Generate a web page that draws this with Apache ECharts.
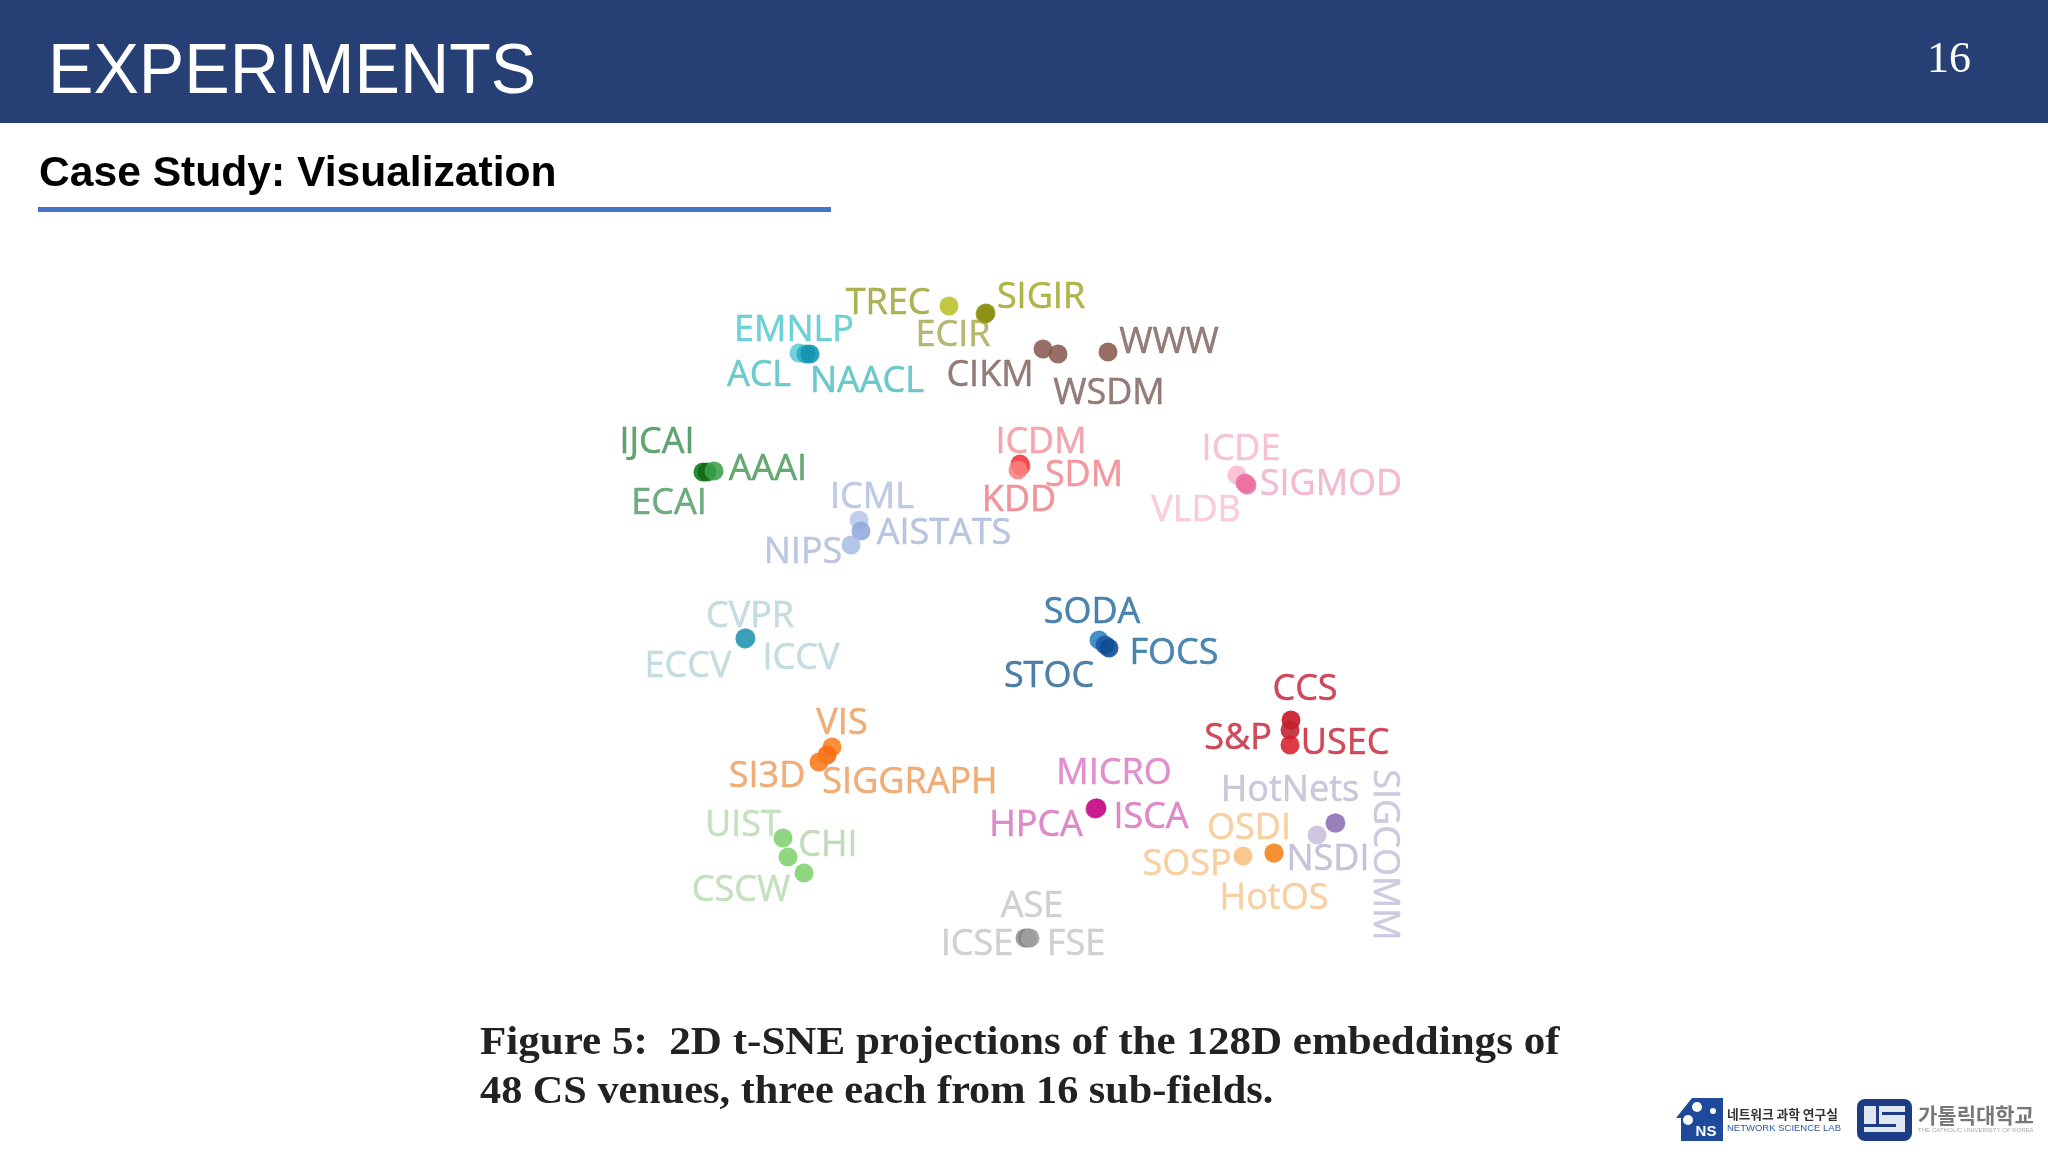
<!DOCTYPE html>
<html>
<head>
<meta charset="utf-8">
<title>Experiments</title>
<style>
  html, body { margin: 0; padding: 0; background: #fff; }
  #chart { width: 2048px; height: 1152px; filter: blur(0.6px); }
</style>
<script src="https://cdn.jsdelivr.net/npm/echarts@6/dist/echarts.min.js"></script>
</head>
<body>
<div id="chart"></div>
<script>
// venues, value units are page pixels of the original slide
const venues = ['TREC','ECIR','SIGIR','EMNLP','ACL','NAACL','CIKM','WSDM','WWW','IJCAI','ECAI','AAAI',
  'ICDM','SDM','KDD','ICDE','VLDB','SIGMOD','ICML','AISTATS','NIPS','CVPR','ECCV','ICCV',
  'SODA','STOC','FOCS','CCS','S&P','USEC','VIS','SIGGRAPH','SI3D','MICRO','ISCA','HPCA',
  'UIST','CHI','CSCW','HotNets','NSDI','SIGCOMM','OSDI','HotOS','SOSP','ASE','ICSE','FSE'];
const pointX = [949,985,986,799,806,810,1043,1058,1108,703,707,714,
  1020,1021,1018,1237,1245,1247,859,861,851,745,746,745,
  1099,1105,1109,1291,1290,1290,832,827,819,1096,1097,1095,
  783,788,804,1317,1335,1336,1243,1274,1274,1025,1028,1030];
const pointY = [306,314,313,353,354,354,349,354,352,472,472,471,
  464,466,470,475,483,485,520,531,545,638,638,639,
  640,645,648,720,730,745,747,755,762,808,808,809,
  838,857,873,835,823,823,856,853,853,938,938,938];
const labelX = [888,953,1041,794,759,867,990,1109,1169,657,669,768,
  1041,1084,1019,1241,1196,1331,872,944,803,750,688,801,
  1092,1049,1174,1305,1238,1345,842,910,767,1114,1151,1036,
  743,828,741,1290,1328,1384,1249,1274,1187,1032,977,1076];
const labelY = [302,334,296,329,374,380,374,392,341,441,502,468,
  441,474,499,448,509,483,496,532,551,615,665,657,
  611,675,652,688,737,742,722,781,775,772,816,824,
  824,844,889,789,858,853,827,897,863,905,943,943];
const labelColors = ['#9a9f2c','#a4a850','#9ea222','#4cc5cc','#48bfc6','#48bbc1','#7a5c58','#7a5c58','#7a5c58',
  '#3a8f4e','#489a5c','#3f9550','#f0919b','#ef7f89','#ec7a84','#f3b6cd','#f6c1d5','#efadc6',
  '#aebde0','#a8b8da','#abbadc','#b5d4d8','#b5d4d8','#b5d4d8','#1f659a','#236192','#1f699f',
  '#c41e32','#c41e32','#c41e32','#ee9a58','#ee9a58','#ee9a58','#d977c0','#d66fbc','#d66fbc',
  '#b6dab0','#b1d6aa','#b6dab0','#bdbbd3','#b7b5d0','#c4bdd9','#f7c48c','#f7c48c','#f7c48c','#c6c6c6','#c6c6c6','#c6c6c6'];
const pointColors = ['#b9c02a','#9aa01c','#8a9010','#5cc9d6','#2ba5c0','#0f93b0','#8a5a50','#8a5a50','#8a5a50',
  '#0a7a1a','#0f6b14','#3aa04a','#f03838','#f04a4a','#f98080','#f9b9cf','#ec6f9f','#ec6f9f',
  '#b8c8ea','#8fa8dc','#a9bde6','#3a9fb8','#3a9fb8','#3a9fb8','#2e7fbf','#1a5ca4','#0c4a94',
  '#c81020','#c02030','#d8202c','#f98020','#f86a10','#f87818','#c0148a','#c0148a','#c81c90',
  '#80d070','#80d070','#80d070','#c8bedc','#8d6db0','#9a80bc','#f9c080','#f59030','#f59030','#909090','#808080','#a0a0a0'];

const chart = echarts.init(document.getElementById('chart'));

const labelData = venues.map((name, i) => ({
  value: [labelX[i], labelY[i] + 2],
  name: name,
  label: {
    color: labelColors[i],
    textBorderColor: labelColors[i],
    textBorderWidth: 0.5,
    rotate: name === 'SIGCOMM' ? -90 : 0
  }
}));
const pointData = venues.map((name, i) => ({
  value: [pointX[i], pointY[i]],
  name: name,
  itemStyle: { color: pointColors[i] }
}));

const option = {
  backgroundColor: '#fff',
  animation: false,
  grid: { left: 0, right: 0, top: 0, bottom: 0 },
  xAxis: { type: 'value', min: 0, max: 2048, show: false },
  yAxis: { type: 'value', min: 0, max: 1152, inverse: true, show: false },
  graphic: [
    { type: 'rect', z: 0, shape: { x: 0, y: 0, width: 2048, height: 123 }, style: { fill: '#264076' } },
    { type: 'text', z: 1, x: 48, y: 74, scaleX: 0.973, style: { text: 'EXPERIMENTS', fill: '#fff', font: '70px "Liberation Sans"', align: 'left', verticalAlign: 'middle' } },
    { type: 'text', z: 1, style: { x: 1949, y: 60, text: '16', fill: '#fff', font: '44px "Liberation Serif"', align: 'center', verticalAlign: 'middle' } },
    { type: 'text', z: 1, style: { x: 39, y: 174, text: 'Case Study: Visualization', fill: '#000', font: 'bold 42.6px "Liberation Sans"', align: 'left', verticalAlign: 'middle' } },
    { type: 'rect', z: 1, shape: { x: 38, y: 207, width: 793, height: 5 }, style: { fill: '#4472c4' } },
    { type: 'text', z: 1, x: 480, y: 1044, scaleX: 1.09, style: { text: 'Figure 5:  2D t-SNE projections of the 128D embeddings of', fill: '#222', font: 'bold 39.5px "Liberation Serif"', align: 'left', verticalAlign: 'middle' } },
    { type: 'text', z: 1, x: 480, y: 1093, scaleX: 1.07, style: { text: '48 CS venues, three each from 16 sub-fields.', fill: '#222', font: 'bold 39.5px "Liberation Serif"', align: 'left', verticalAlign: 'middle' } },
    // network science lab logo
    { type: 'polygon', z: 1, shape: { points: [[1676,1118],[1692,1098],[1723,1098],[1723,1141],[1681,1141],[1681,1118]] }, style: { fill: '#1f4a9c' } },
    { type: 'circle', z: 2, shape: { cx: 1697, cy: 1107, r: 5 }, style: { fill: '#fff' } },
    { type: 'circle', z: 2, shape: { cx: 1688, cy: 1120, r: 5 }, style: { fill: '#fff' } },
    { type: 'circle', z: 2, shape: { cx: 1713, cy: 1111, r: 3 }, style: { fill: '#fff' } },
    { type: 'text', z: 2, style: { x: 1706, y: 1132, text: 'NS', fill: '#fff', font: 'bold 15px "Liberation Sans"', align: 'center', verticalAlign: 'middle' } },
    { type: 'text', z: 1, style: { x: 1727, y: 1114, text: '네트워크 과학 연구실', fill: '#333', font: 'bold 12.7px "Noto Sans CJK KR"', align: 'left', verticalAlign: 'middle' } },
    { type: 'text', z: 1, style: { x: 1727, y: 1128, text: 'NETWORK SCIENCE LAB', fill: '#2a5aa8', font: '9.5px "Liberation Sans"', align: 'left', verticalAlign: 'middle' } },
    // university seal
    { type: 'rect', z: 1, shape: { x: 1857, y: 1099, width: 55, height: 42, r: 8 }, style: { fill: '#1c3d86' } },
    { type: 'rect', z: 2, shape: { x: 1864, y: 1106, width: 41, height: 26 }, style: { fill: '#dfe6f2' } },
    { type: 'rect', z: 3, shape: { x: 1876, y: 1106, width: 3, height: 18 }, style: { fill: '#1c3d86' } },
    { type: 'rect', z: 3, shape: { x: 1882, y: 1112, width: 23, height: 3 }, style: { fill: '#1c3d86' } },
    { type: 'rect', z: 3, shape: { x: 1864, y: 1124, width: 32, height: 3 }, style: { fill: '#1c3d86' } },
    { type: 'text', z: 1, style: { x: 1918, y: 1115, text: '가톨릭대학교', fill: '#777', font: 'bold 21px "Noto Sans CJK KR"', align: 'left', verticalAlign: 'middle' } },
    { type: 'text', z: 1, style: { x: 1918, y: 1130, text: 'THE CATHOLIC UNIVERSITY OF KOREA', fill: '#aaa', font: '6.1px "Liberation Sans"', align: 'left', verticalAlign: 'middle' } }
  ],
  series: [
    {
      name: 'labels',
      type: 'scatter',
      symbolSize: 0,
      silent: true,
      z: 3,
      label: {
        show: true,
        position: 'inside',
        formatter: '{b}',
        fontFamily: 'Open Sans',
        fontSize: 36
      },
      data: labelData
    },
    {
      name: 'venues',
      type: 'scatter',
      symbolSize: 19,
      z: 4,
      itemStyle: { opacity: 0.88 },
      data: pointData
    }
  ]
};
chart.setOption(option);

window.onresize = function() {
  chart.resize();
};
</script>
</body>
</html>
